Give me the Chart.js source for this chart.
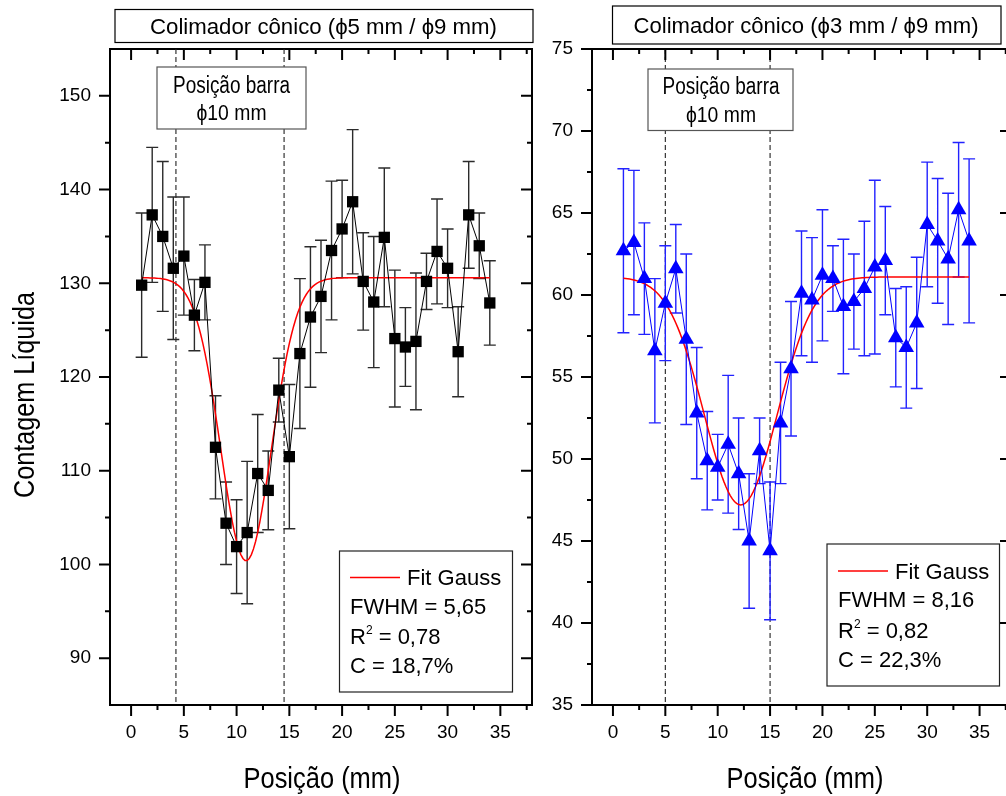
<!DOCTYPE html>
<html>
<head>
<meta charset="utf-8">
<script src="https://cdn.jsdelivr.net/npm/chart.js@4.4.1/dist/chart.umd.min.js"></script>
<style>
  html, body { margin: 0; padding: 0; background: #fff; overflow: hidden; width: 1006px; height: 796px; }
  canvas { position: absolute; top: 0; }
  #chartLeft { left: 0; }
  #chartRight { left: 540px; }
</style>
</head>
<body>
<canvas id="chartLeft" width="560" height="796"></canvas>
<canvas id="chartRight" width="480" height="796"></canvas>
<script>
// positions (mm)
const positions = [1, 2, 3, 4, 5, 6, 7, 8, 9, 10, 11, 12, 13, 14, 15, 16, 17,
                   18, 19, 20, 21, 22, 23, 24, 25, 26, 27, 28, 29, 30, 31, 32, 33, 34];

// colimador phi5/phi9 (left)
const countsLeft = [129.8, 137.3, 135.0, 131.6, 132.9, 126.6, 130.1, 112.5, 104.4, 101.9, 103.4, 109.7,
                    107.9, 118.6, 111.5, 122.5, 126.4, 128.6, 133.5, 135.8, 138.7, 130.2, 128.0, 134.9,
                    124.1, 123.2, 123.8, 130.2, 133.4, 131.6, 122.7, 137.3, 134.0, 127.9];
const errorsLeft = [7.7, 7.2, 8.0, 7.6, 6.3, 3.8, 4.0, 5.5, 4.4, 5.0, 7.6, 6.3, 4.2, 3.4, 7.7, 8.0, 7.5,
                    6.0, 7.4, 5.2, 7.7, 5.2, 7.0, 7.4, 7.3, 4.2, 7.3, 3.0, 5.6, 4.2, 4.8, 5.7, 3.5, 4.5];

// colimador phi3/phi9 (right)
const countsRight = [62.7, 63.2, 61.0, 56.6, 59.5, 61.6, 57.3, 52.8, 49.9, 49.5, 50.9, 49.1, 45.0, 50.5,
                     44.4, 52.2, 55.5, 60.1, 59.7, 61.2, 61.0, 59.3, 59.6, 60.4, 61.7, 62.1, 57.4, 56.8,
                     58.3, 64.3, 63.3, 62.2, 65.2, 63.3];
const errorsRight = [5.0, 4.4, 3.4, 4.4, 3.5, 2.7, 5.2, 4.0, 3.0, 2.0, 4.2, 3.4, 4.1, 2.0, 4.2, 3.7, 4.1,
                     3.8, 3.8, 4.0, 2.0, 4.1, 2.9, 4.1, 5.3, 3.3, 3.0, 3.7, 4.0, 3.8, 3.8, 4.0, 4.1, 5.0];

// gaussian fits (baseline, minimum, centre, FWHM)
const fitLeft = { base: 130.6, min: 100.4, center: 10.9, fwhm: 5.65 };
const fitRight = { base: 61.1, min: 47.2, center: 12.2, fwhm: 8.16 };

// bar edges (dashed lines)
const barEdgesLeft = [4.25, 14.5];
const barEdgesRight = [5, 15];

// ticks
const xTickLabels = [0, 5, 10, 15, 20, 25, 30, 35];
const xMinorTicks = [2.5, 7.5, 12.5, 17.5, 22.5, 27.5, 32.5, 37.5];
const yTickLabelsLeft = [90, 100, 110, 120, 130, 140, 150];
const yMinorTicksLeft = [95, 105, 115, 125, 135, 145];
const yTickLabelsRight = [35, 40, 45, 50, 55, 60, 65, 70, 75];
const yMinorTicksRight = [37.5, 42.5, 47.5, 52.5, 57.5, 62.5, 67.5, 72.5];

// texts
const titleLeft = 'Colimador cônico (ϕ5 mm / ϕ9 mm)';
const titleRight = 'Colimador cônico (ϕ3 mm / ϕ9 mm)';
const legendLeft = ['Fit Gauss', 'FWHM = 5,65', ' = 0,78', 'C = 18,7%'];
const legendRight = ['Fit Gauss', 'FWHM = 8,16', ' = 0,82', 'C = 22,3%'];

const FONT = "'Liberation Sans', Arial, 'DejaVu Sans', sans-serif";

function gaussCurve(g) {
  const sigma = g.fwhm / 2.3548;
  const pts = [];
  const first = positions[0], last = positions[positions.length - 1];
  for (let i = 0; i <= (last - first) * 5; i++) {
    const x = first + i / 5;
    pts.push({ x: x, y: g.base + (g.min - g.base) * Math.exp(-((x - g.center) ** 2) / (2 * sigma * sigma)) });
  }
  return pts;
}

function fittedText(ctx, text, x, y, size, width, rotate) {
  ctx.save();
  ctx.font = size + 'px ' + FONT;
  const natural = ctx.measureText(text).width;
  ctx.translate(x, y);
  if (rotate) ctx.rotate(-Math.PI / 2);
  if (width) ctx.scale(width / natural, 1);
  ctx.textAlign = 'center';
  ctx.textBaseline = 'alphabetic';
  ctx.fillStyle = '#000';
  ctx.fillText(text, 0, 0);
  ctx.restore();
}

function rectBox(ctx, b, stroke) {
  ctx.save();
  ctx.fillStyle = '#fff';
  ctx.fillRect(b.x1, b.y1, b.x2 - b.x1, b.y2 - b.y1);
  ctx.strokeStyle = stroke;
  ctx.lineWidth = 1.2;
  ctx.strokeRect(b.x1, b.y1, b.x2 - b.x1, b.y2 - b.y1);
  ctx.restore();
}

function decorations(cfg) {
  return {
    id: 'decorations',
    beforeDatasetsDraw(chart) {
      const ctx = chart.ctx, a = chart.chartArea;
      const xs = chart.scales.x, ys = chart.scales.y;
      ctx.save();
      // dashed bar edges
      ctx.strokeStyle = '#222';
      ctx.lineWidth = 1.1;
      ctx.setLineDash([5, 3]);
      cfg.barEdges.forEach(v => {
        const px = xs.getPixelForValue(v);
        ctx.beginPath();
        ctx.moveTo(px, a.top);
        ctx.lineTo(px, a.bottom);
        ctx.stroke();
      });
      ctx.setLineDash([]);
      // error bars
      ctx.strokeStyle = cfg.errorColor;
      ctx.lineWidth = 1.4;
      ctx.beginPath();
      positions.forEach((p, i) => {
        const px = xs.getPixelForValue(p);
        const top = ys.getPixelForValue(cfg.counts[i] + cfg.errors[i]);
        const bot = ys.getPixelForValue(cfg.counts[i] - cfg.errors[i]);
        ctx.moveTo(px, top); ctx.lineTo(px, bot);
        ctx.moveTo(px - 6, top); ctx.lineTo(px + 6, top);
        ctx.moveTo(px - 6, bot); ctx.lineTo(px + 6, bot);
      });
      ctx.stroke();
      ctx.restore();
    },
    afterDraw(chart) {
      const ctx = chart.ctx, a = chart.chartArea;
      const xs = chart.scales.x, ys = chart.scales.y;
      ctx.save();
      // tick marks: outside on left/bottom, inside on top/right
      ctx.strokeStyle = '#000';
      ctx.lineWidth = 2;
      ctx.beginPath();
      const xMarks = (vals, len) => vals.forEach(v => {
        const px = xs.getPixelForValue(v);
        ctx.moveTo(px, a.bottom); ctx.lineTo(px, a.bottom + len);
        ctx.moveTo(px, a.top); ctx.lineTo(px, a.top + len);
      });
      const yMarks = (vals, len) => vals.forEach(v => {
        const py = ys.getPixelForValue(v);
        ctx.moveTo(a.left, py); ctx.lineTo(a.left - len, py);
        ctx.moveTo(a.right, py); ctx.lineTo(a.right - len, py);
      });
      xMarks(xTickLabels, 11);
      xMarks(xMinorTicks, 5);
      yMarks(cfg.yTicks, 11);
      yMarks(cfg.yMinor, 5);
      ctx.stroke();

      // title box
      rectBox(ctx, cfg.title.box, '#000');
      fittedText(ctx, cfg.title.text, cfg.title.cx, cfg.title.base, 22, cfg.title.width);

      // bar annotation
      const an = cfg.annot;
      rectBox(ctx, an.box, '#555');
      fittedText(ctx, 'Posição barra', an.cx, an.base1, 23, 117);
      fittedText(ctx, 'ϕ10 mm', an.cx, an.base2, 22, 70);

      // legend
      const L = cfg.legend;
      rectBox(ctx, L.box, '#222');
      ctx.strokeStyle = '#ff0000';
      ctx.lineWidth = 1.3;
      ctx.beginPath();
      ctx.moveTo(L.x, L.lineY); ctx.lineTo(L.x + 50, L.lineY);
      ctx.stroke();
      ctx.fillStyle = '#000';
      ctx.textAlign = 'left';
      ctx.textBaseline = 'alphabetic';
      ctx.font = '22px ' + FONT;
      ctx.fillText(L.texts[0], L.x + 57, L.base[0]);
      ctx.fillText(L.texts[1], L.x, L.base[1]);
      ctx.fillText('R', L.x, L.base[2]);
      const rw = ctx.measureText('R').width;
      ctx.font = '12px ' + FONT;
      ctx.fillText('2', L.x + rw, L.base[2] - 10);
      const sw = ctx.measureText('2').width;
      ctx.font = '22px ' + FONT;
      ctx.fillText(L.texts[2], L.x + rw + sw, L.base[2]);
      ctx.fillText(L.texts[3], L.x, L.base[3]);

      // axis titles
      fittedText(ctx, 'Posição (mm)', cfg.xTitle.cx, cfg.xTitle.base, 29, 157);
      if (cfg.yTitle) fittedText(ctx, 'Contagem Líquida', cfg.yTitle.x, cfg.yTitle.cy, 29, 206, true);
      ctx.restore();
    }
  };
}

function buildChart(id, cfg) {
  const canvas = document.getElementById(id);
  const W = canvas.width, H = canvas.height;
  const area = cfg.area;
  const tickFont = { family: FONT, size: 19 };
  const axisBase = {
    type: 'linear',
    grid: { display: false, drawTicks: false, tickLength: 0 },
    border: { display: true, color: '#000', width: 2 }
  };
  return new Chart(canvas, {
    type: 'scatter',
    data: {
      datasets: [
        {
          data: positions.map((p, i) => ({ x: p, y: cfg.counts[i] })),
          showLine: true,
          borderColor: cfg.color,
          borderWidth: 1,
          pointStyle: cfg.marker,
          pointRadius: cfg.markerRadius,
          pointHoverRadius: cfg.markerRadius,
          pointBackgroundColor: cfg.color,
          pointBorderColor: cfg.color,
          pointBorderWidth: 0
        },
        {
          data: gaussCurve(cfg.fit),
          showLine: true,
          borderColor: '#ff0000',
          borderWidth: 1.5,
          pointRadius: 0,
          pointHoverRadius: 0
        }
      ]
    },
    options: {
      responsive: false,
      animation: false,
      devicePixelRatio: 1,
      events: [],
      layout: { padding: 0 },
      plugins: { legend: { display: false }, tooltip: { enabled: false } },
      scales: {
        x: Object.assign({}, axisBase, {
          position: 'bottom', min: -2, max: 38,
          afterBuildTicks: s => { s.ticks = xTickLabels.map(v => ({ value: v })); },
          afterFit: s => { s.height = H - area.bottom; },
          ticks: { autoSkip: false, maxRotation: 0, padding: 16, color: '#000', font: tickFont }
        }),
        xTop: Object.assign({}, axisBase, {
          position: 'top', min: -2, max: 38,
          afterFit: s => { s.height = area.top; },
          ticks: { display: false }
        }),
        y: Object.assign({}, axisBase, {
          position: 'left', min: cfg.yMin, max: cfg.yMax,
          afterBuildTicks: s => { s.ticks = cfg.yTicks.map(v => ({ value: v })); },
          afterFit: s => { s.width = area.left; },
          ticks: { autoSkip: false, padding: 19, color: '#000', font: tickFont }
        }),
        yRight: Object.assign({}, axisBase, {
          position: 'right', min: cfg.yMin, max: cfg.yMax,
          afterFit: s => { s.width = W - area.right; },
          ticks: { display: false }
        })
      }
    },
    plugins: [decorations(cfg)]
  });
}

buildChart('chartLeft', {
  area: { left: 110, right: 532, top: 49, bottom: 705 },
  counts: countsLeft, errors: errorsLeft, fit: fitLeft,
  color: '#000000', errorColor: '#2b2b2b', marker: 'rect', markerRadius: 8,
  yMin: 85, yMax: 155, yTicks: yTickLabelsLeft, yMinor: yMinorTicksLeft,
  barEdges: barEdgesLeft,
  title: { box: { x1: 115, y1: 9.5, x2: 533, y2: 42.5 }, text: titleLeft, cx: 323.5, base: 34, width: 347 },
  annot: { box: { x1: 157, y1: 67, x2: 306, y2: 129 }, cx: 231.5, base1: 92.5, base2: 120 },
  legend: { box: { x1: 339.5, y1: 551, x2: 512.5, y2: 692 }, x: 350, lineY: 577.5,
            base: [585, 614, 644, 673], texts: legendLeft },
  xTitle: { cx: 322, base: 788 },
  yTitle: { x: 34, cy: 395 }
});

buildChart('chartRight', {
  area: { left: 52, right: 475, top: 49, bottom: 705 },
  counts: countsRight, errors: errorsRight, fit: fitRight,
  color: '#0000ff', errorColor: '#2222ff', marker: 'triangle', markerRadius: 9,
  yMin: 35, yMax: 75, yTicks: yTickLabelsRight, yMinor: yMinorTicksRight,
  barEdges: barEdgesRight,
  title: { box: { x1: 72.5, y1: 6, x2: 461, y2: 44 }, text: titleRight, cx: 266, base: 33, width: 345 },
  annot: { box: { x1: 108, y1: 69, x2: 253, y2: 130.5 }, cx: 181, base1: 94, base2: 121.5 },
  legend: { box: { x1: 287, y1: 544, x2: 459.5, y2: 686 }, x: 298, lineY: 571,
            base: [579, 607, 638, 667], texts: legendRight },
  xTitle: { cx: 265, base: 788 },
  yTitle: null
});
</script>
</body>
</html>
